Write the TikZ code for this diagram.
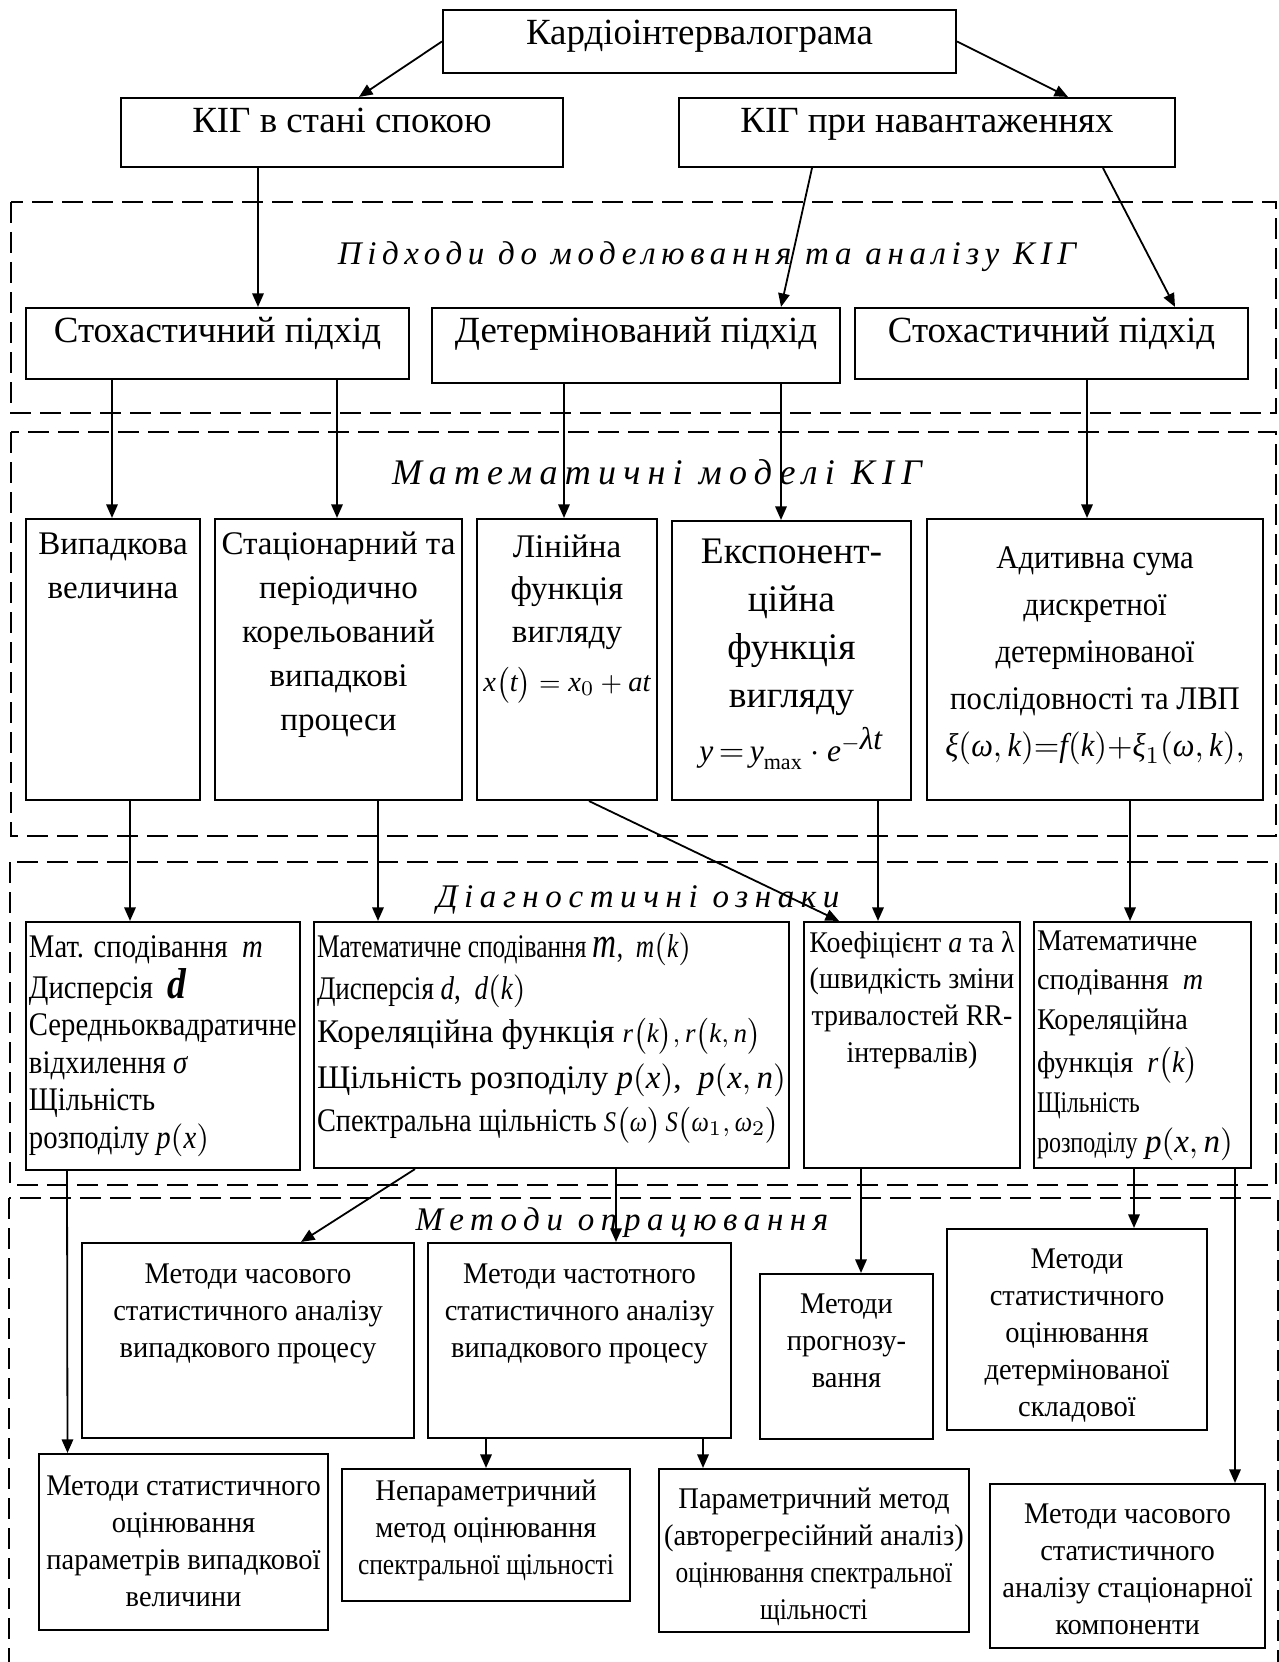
\documentclass[tikz,border=0pt]{standalone}
\usepackage{fontspec}
\setmainfont{Liberation Serif}
\newfontfamily\spacedfont[LetterSpace=20]{Liberation Serif}
\usetikzlibrary{arrows.meta}

\newdimen\pxl \pxl=0.33333pt
% fixed size boxes, first baseline #3 below the top edge
\newcommand{\cbox}[4]{\parbox[c][#2\pxl][t]{#1\pxl}{\centering\rule{0pt}{#3\pxl}\begin{tabular}[t]{@{}c@{}}#4\end{tabular}}}
\newcommand{\lbox}[4]{\parbox[c][#2\pxl][t]{#1\pxl}{\raggedright\leftskip=1pt\rule{0pt}{#3\pxl}\begin{tabular}[t]{@{}l@{}}#4\end{tabular}}}
\newcommand{\mv}[1]{\textit{#1}}
\newcommand{\squeeze}[1]{\addfontfeature{FakeStretch=#1}}

\begin{document}
\begin{tikzpicture}[x=0.33333pt, y=-0.33333pt, ->, >={Triangle[length=4.5pt,width=3.8pt]}, semithick,
    box/.style={draw, rectangle, inner sep=0pt, line width=0.7pt},
    zone/.style={-, draw, dash pattern=on 7pt off 3pt, line width=0.9pt},
    ttl/.style={anchor=base, inner sep=0pt, font=\spacedfont\itshape\fontsize{11}{13}\selectfont},
    bigtxt/.style={font=\fontsize{12.3}{15}\selectfont},
    midtxt/.style={font=\fontsize{11}{14.7}\selectfont},
    lowtxt/.style={font=\fontsize{10}{12.4}\selectfont\squeeze{0.95}}]
  \useasboundingbox (0,0) rectangle (1279,1662);

  % dashed zones
  \draw[zone] (11,202) rectangle (1276,413);
  \draw[zone] (11,432) rectangle (1276,836);
  \draw[zone] (10,862) rectangle (1276,1185);
  \draw[zone] (9,1198) rectangle (1278,1700);

  \node[ttl, font=\spacedfont\itshape\fontsize{11}{13}\selectfont\addfontfeature{LetterSpace=17}] (tapproach) at (707,265) {Підходи до моделювання та аналізу КІГ};
  \node[ttl, font=\spacedfont\itshape\fontsize{12}{14}\selectfont] (tmodels) at (657,484) {Математичні моделі КІГ};
  \node[ttl] (tsigns) at (638,907) {Діагностичні ознаки};
  \node[ttl] (tmethods) at (622,1230) {Методи опрацювання};

  % top levels
  \node[box, bigtxt] (kig) at (699.5,41.5) {\cbox{513}{63}{35}{Кардіоінтервалограма}};
  \node[box, bigtxt] (rest) at (342,132.5) {\cbox{442}{69}{35}{КІГ в стані спокою}};
  \node[box, bigtxt] (load) at (927,132.5) {\cbox{496}{69}{35}{КІГ при навантаженнях}};
  \node[box, bigtxt] (stoch1) at (217.5,343.5) {\cbox{383}{71}{35}{Стохастичний підхід}};
  \node[box, bigtxt] (det) at (636,345.5) {\cbox{408}{75}{35}{Детермінований підхід}};
  \node[box, bigtxt] (stoch2) at (1051.5,343.5) {\cbox{393}{71}{35}{Стохастичний підхід}};

  % models
  \node[box, midtxt] (rv) at (113,659.5) {\cbox{174}{281}{35}{Випадкова\\величина}};
  \node[box, midtxt] (proc) at (338.5,659.5) {\cbox{247}{281}{35}{Стаціонарний та\\періодично\\корельований\\випадкові\\процеси}};
  \node[box, font=\fontsize{11}{14.3}\selectfont] (lin) at (567,659.5) {\cbox{180}{281}{38}{Лінійна\\функція\\вигляду\\[2pt]{\fontsize{9.5}{12}\selectfont$\mv{x}\bigl(\mv{t}\bigr) = \mv{x}_0 + \mv{at}$}}};
  \node[box, font=\fontsize{12.5}{16}\selectfont] (expo) at (791.5,660.5) {\cbox{239}{279}{42}{Експонент-\\ційна\\функція\\вигляду\\[2pt]{\fontsize{10.5}{12}\selectfont$\mv{y}\,{=}\,\mv{y}_{\mathrm{max}}\cdot\mv{e}^{-\mv{λt}}$}}};
  \node[box, font=\fontsize{11}{15.7}\selectfont\squeeze{0.93}] (adsum) at (1095,659.5) {\cbox{336}{281}{49}{Адитивна сума\\дискретної\\детермінованої\\послідовності та ЛВП\\$\mv{ξ}\bigl(\mv{ω},\mv{k}\bigr){=}\mv{f}\bigl(\mv{k}\bigr){+}\mv{ξ}_1\bigl(\mv{ω},\mv{k}\bigr),$}};

  % diagnostic signs
  \node[box, font=\fontsize{11}{12.5}\selectfont\squeeze{0.87}] (sig1) at (163,1046) {\lbox{274}{248}{35}{Мат. сподівання \ \mv{m}\\Дисперсія \ {\Large\bfseries\itshape d}\\Середньоквадратичне\\відхилення \mv{σ}\\Щільність\\розподілу $\mv{p}\bigl(\mv{x}\bigr)$}};
  \node[box, font=\fontsize{11}{14.3}\selectfont] (sig2) at (551.5,1045) {\lbox{475}{246}{35}{{\squeeze{0.77}Математичне сподівання {\Large\mv{m}}, \ $\mv{m}\bigl(\mv{k}\bigr)$}\\{\squeeze{0.82}Дисперсія \mv{d}, \ $\mv{d}\bigl(\mv{k}\bigr)$}\\Кореляційна функція {\small$\mv{r}\bigl(\mv{k}\bigr),\mv{r}\bigl(\mv{k},\mv{n}\bigr)$}\\[1pt]Щільність розподілу $\mv{p}\bigl(\mv{x}\bigr)$, \ $\mv{p}\bigl(\mv{x}, \mv{n}\bigr)$\\{\squeeze{0.86}Спектральна щільність {\fontsize{9.5}{12}\selectfont$\mv{S}\bigl(\mv{ω}\bigr)$\,$\mv{S}\bigl(\mv{ω}_1,\mv{ω}_2\bigr)$}}}};
  \node[box, font=\fontsize{10}{12.3}\selectfont\squeeze{0.93}] (coef) at (912,1045) {\cbox{216}{246}{30}{Коефіцієнт \mv{a} та λ\\(швидкість зміни\\тривалостей RR-\\інтервалів)}};
  \node[box, font=\fontsize{10}{13.3}\selectfont] (sig4) at (1142.5,1045) {\lbox{217}{246}{28}{{\squeeze{0.94}Математичне}\\{\squeeze{0.94}сподівання \ \mv{m}}\\{\squeeze{0.94}Кореляційна}\\[1pt]{\squeeze{0.94}функція \ $\mv{r}\bigl(\mv{k}\bigr)$}\\{\squeeze{0.78}Щільність}\\{\squeeze{0.8}розподілу} {\fontsize{11}{13}\selectfont$\mv{p}\bigl(\mv{x}, \mv{n}\bigr)$}}};

  % processing methods
  \node[box, lowtxt] (timean) at (248,1340.5) {\cbox{332}{195}{40}{Методи часового\\статистичного аналізу\\випадкового процесу}};
  \node[box, lowtxt] (freqan) at (579.5,1340.5) {\cbox{303}{195}{40}{Методи частотного\\статистичного аналізу\\випадкового процесу}};
  \node[box, lowtxt] (prog) at (846.5,1356.5) {\cbox{173}{165}{39}{Методи\\прогнозу-\\вання}};
  \node[box, lowtxt] (detest) at (1077,1329.5) {\cbox{260}{201}{39}{Методи\\статистичного\\оцінювання\\детермінованої\\складової}};
  \node[box, lowtxt] (statest) at (183.5,1542) {\cbox{289}{176}{41}{Методи статистичного\\оцінювання\\параметрів випадкової\\величини}};
  \node[box, lowtxt] (nonpar) at (486,1535) {\cbox{288}{132}{31}{Непараметричний\\метод оцінювання\\{\squeeze{0.85}спектральної щільності}}};
  \node[box, lowtxt] (param) at (814,1550.5) {\cbox{310}{163}{39}{Параметричний метод\\(авторегресійний аналіз)\\{\squeeze{0.85}оцінювання спектральної}\\{\squeeze{0.85}щільності}}};
  \node[box, lowtxt] (stcomp) at (1127.5,1566) {\cbox{275}{164}{39}{Методи часового\\статистичного\\аналізу стаціонарної\\компоненти}};

  \path
  (kig.west) edge ([xshift=17\pxl]rest.north)
  (kig.east) edge ([xshift=141\pxl]load.north)
  ([xshift=-84\pxl]rest.south) edge ([xshift=40.5\pxl]stoch1.north)
  ([xshift=-115\pxl]load.south) edge ([xshift=145\pxl]det.north)
  ([xshift=176\pxl]load.south) edge ([xshift=123.5\pxl]stoch2.north)
  ([xshift=-105.5\pxl]stoch1.south) edge ([xshift=-1\pxl]rv.north)
  ([xshift=119.5\pxl]stoch1.south) edge ([xshift=-1.5\pxl]proc.north)
  ([xshift=-72\pxl]det.south) edge ([xshift=-3\pxl]lin.north)
  ([xshift=145\pxl]det.south) edge ([xshift=-10.5\pxl]expo.north)
  ([xshift=35.5\pxl]stoch2.south) edge ([xshift=-8\pxl]adsum.north)
  ([xshift=17\pxl]rv.south) edge ([xshift=-33\pxl]sig1.north)
  ([xshift=39.5\pxl]proc.south) edge ([xshift=-173.5\pxl]sig2.north)
  ([xshift=22\pxl]lin.south) edge ([xshift=-73\pxl]coef.north)
  ([xshift=86.5\pxl]expo.south) edge ([xshift=-34\pxl]coef.north)
  ([xshift=35\pxl]adsum.south) edge ([xshift=-12.5\pxl]sig4.north)
  ([xshift=-96\pxl]sig1.south) edge ([xshift=-116\pxl]statest.north)
  ([xshift=-136.5\pxl]sig2.south) edge ([xshift=53\pxl]timean.north)
  ([xshift=64.5\pxl]sig2.south) edge ([xshift=36.5\pxl]freqan.north)
  ([xshift=-93.5\pxl]freqan.south) edge (nonpar.north)
  ([xshift=123.5\pxl]freqan.south) edge ([xshift=-111\pxl]param.north)
  ([xshift=-51\pxl]coef.south) edge ([xshift=14.5\pxl]prog.north)
  ([xshift=-8.5\pxl]sig4.south) edge ([xshift=57\pxl]detest.north)
  ([xshift=92.5\pxl]sig4.south) edge ([xshift=107.5\pxl]stcomp.north)
  ;
\end{tikzpicture}
\end{document}
